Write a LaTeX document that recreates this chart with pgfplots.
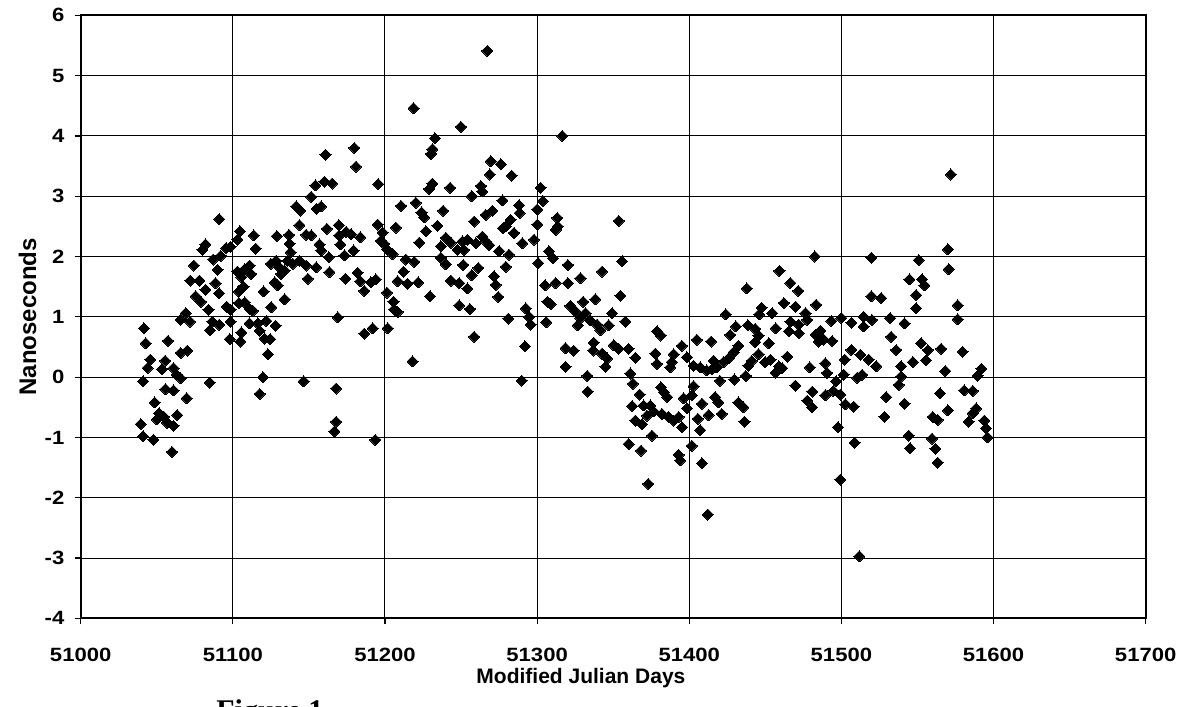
\documentclass[border=0pt]{standalone}
\usepackage{fontspec}
\setmainfont{Liberation Sans}
\newfontfamily\tickfont{Liberation Sans}[FakeStretch=1.15]
\newfontfamily\figfont{Liberation Serif}
\usepackage{pgfplots}
\pgfplotsset{compat=1.18}
\begin{document}
\begin{tikzpicture}
% 1 px of the reference = 0.5pt
\useasboundingbox (0,0) rectangle (595.5pt,-353.5pt);
\begin{axis}[
  at={(40.35pt,-7.65pt)}, anchor=north west,
  scale only axis, width=532.5pt, height=301.5pt,
  xmin=51000, xmax=51700, ymin=-4, ymax=6,
  xtick={51000,51100,...,51700}, ytick={-4,-3,...,6},
  scaled ticks=false,
  /pgf/number format/1000 sep={},
  /pgf/number format/assume math mode=true,
  tick label style={font=\tickfont\bfseries\fontsize{9.6}{10}\selectfont},
  tick align=outside, tick pos=left, major tick length=3pt,
  tick style={black, line width=0.6pt},
  grid=major, major grid style={black, line width=0.5pt},
  axis line style={black, line width=0.9pt},
  xticklabel style={anchor=base, yshift=-18.5pt},
  yticklabel style={anchor=east, inner sep=0pt, xshift=-5pt},
  xlabel={Modified Julian Days}, ylabel={Nanoseconds},
  xlabel style={at={(axis description cs:0.4697,-0.1073)}, anchor=base,
    font=\fontsize{10.5}{12}\selectfont\bfseries},
  ylabel style={at={(axis description cs:-0.0498,0.5)}, anchor=center,
    font=\fontsize{12}{14}\selectfont\bfseries},
]
\addplot[only marks, mark=square*, mark size=1.95pt,
  mark options={rotate=45, fill=black, draw=black, line width=0pt}]
coordinates {
% 51040-51108
(51091,2.62)(51104.6,2.42)(51103,2.28)(51098.5,2.16)(51095.6,2.14)(51082,2.2)(51080,2.11)(51087,1.95)(51092,2.01)(51090,1.78)
(51074.4,1.85)(51103,1.75)(51072,1.6)(51078,1.6)(51088.6,1.56)(51082,1.45)(51075.5,1.34)(51079,1.25)(51091,1.39)(51104,1.42)
(51107,1.5)(51084,1.12)(51096,1.17)(51098.5,1.12)(51104,1.23)(51069,1.06)(51065.7,0.95)(51071.8,0.92)(51086.4,0.92)(51091,0.87)
(51085,0.78)(51098.5,0.92)(51098,0.63)(51105,0.59)(51041.6,0.81)(51042.7,0.56)(51057.4,0.6)(51065.7,0.4)(51070,0.44)(51045.7,0.29)
(51055.5,0.27)(51061,0.15)(51044,0.15)(51053.4,0.13)(51063,0.04)(51065.7,-0.02)(51041,-0.07)(51084.7,-0.09)(51055.7,-0.2)(51061,-0.22)
(51069.6,-0.35)(51048.6,-0.42)(51051.5,-0.6)(51054.7,-0.66)(51063.5,-0.63)(51050,-0.7)(51057,-0.76)(51061,-0.81)(51039.5,-0.78)(51041,-0.98)
(51047.8,-1.04)(51060,-1.24)
% 51105-51176
(51160.9,3.69)(51154.3,3.18)(51160.2,3.24)(51165.3,3.21)(51151.5,2.99)(51141.7,2.83)(51144.3,2.76)(51158,2.83)(51155,2.79)(51143.8,2.52)
(51161.8,2.46)(51169.6,2.52)(51174.4,2.41)(51113.7,2.35)(51129,2.34)(51136.9,2.36)(51148.2,2.36)(51151.5,2.35)(51137.3,2.21)(51115,2.13)
(51157,2.2)(51158,2.1)(51170,2.35)(51170.7,2.2)(51138,2.07)(51163,1.99)(51173.4,2.02)(51128.5,1.93)(51125,1.88)(51130.7,1.82)
(51136,1.93)(51139.5,1.88)(51134,1.77)(51131.8,1.71)(51143.8,1.93)(51148.2,1.85)(51154.8,1.82)(51149.3,1.63)(51163.5,1.74)(51174,1.63)
(51111,1.85)(51112,1.71)(51107.8,1.79)(51105.6,1.66)(51127.5,1.57)(51129.6,1.52)(51120.2,1.42)(51134,1.29)(51107.8,1.24)(51111,1.13)
(51113.2,1.1)(51125.3,1.16)(51169,0.99)(51105.6,0.74)(51111,0.89)(51116.5,0.89)(51122,0.93)(51128.1,0.85)(51117.6,0.77)(51120.9,0.64)
(51124.6,0.63)(51123,0.38)(51119.8,0.0)(51117.6,-0.28)(51146.5,-0.07)(51167.9,-0.19)(51167.9,-0.74)(51166.8,-0.9)
% 51176-51245
(51218.8,4.46)(51232.8,3.96)(51231.2,3.78)(51230.1,3.7)(51179.9,3.8)(51181,3.49)(51195.6,3.2)(51231.2,3.21)(51229,3.12)(51242.8,3.14)
(51210.5,2.84)(51220.3,2.89)(51224,2.73)(51225.8,2.65)(51238.2,2.76)(51234.5,2.51)(51226.9,2.42)(51222.5,2.23)(51207.2,2.48)(51195.2,2.53)
(51198.4,2.4)(51197.3,2.26)(51199.5,2.21)(51201.3,2.12)(51205,2.04)(51177.7,2.37)(51183.8,2.32)(51179.4,2.1)(51240,2.31)(51236.7,2.17)
(51243.3,2.23)(51236.7,1.98)(51240,1.87)(51213.7,1.95)(51219.2,1.91)(51212.2,1.75)(51208.3,1.59)(51214.8,1.55)(51221.8,1.57)(51229.7,1.34)
(51243.3,1.6)(51182,1.73)(51183.8,1.59)(51186.4,1.43)(51190.8,1.57)(51194,1.62)(51201.3,1.4)(51205.6,1.25)(51208.3,1.08)(51206,1.12)
(51186.4,0.72)(51191.9,0.81)(51201.7,0.81)(51218.1,0.26)(51193.6,-1.04)
% 51245-51314
(51267.3,5.41)(51249.9,4.15)(51269.5,3.58)(51276.1,3.53)(51268.9,3.36)(51283.3,3.34)(51257,3.0)(51263,3.17)(51264,3.08)(51302.3,3.14)
(51303.8,2.92)(51277.2,2.93)(51270.6,2.76)(51266.2,2.69)(51258.6,2.58)(51288.1,2.85)(51288.5,2.72)(51282.6,2.61)(51279.4,2.5)(51277.6,2.47)
(51284.8,2.39)(51300.1,2.78)(51300.1,2.53)(51313.2,2.64)(51312.1,2.44)(51251,2.25)(51254.2,2.28)(51247.7,2.11)(51252,2.11)(51259.7,2.22)
(51264,2.33)(51266.2,2.25)(51268.4,2.19)(51275,2.09)(51281.5,2.03)(51290.3,2.22)(51298,2.28)(51307.8,2.09)(51310.4,1.97)(51251.4,1.86)
(51257,1.69)(51261.4,1.81)(51248.8,1.56)(51254.2,1.47)(51271.7,1.67)(51272.8,1.53)(51274.5,1.33)(51279.4,1.83)(51248.8,1.19)(51255.8,1.13)
(51300.8,1.89)(51305.2,1.52)(51312.1,1.56)(51306.7,1.25)(51308.9,1.21)(51281.1,0.97)(51292.5,1.14)(51294.7,1.0)(51295.8,0.87)(51306,0.91)
(51258.6,0.67)(51292,0.51)(51289.9,-0.06)
% 51314-51383
(51316.5,4.0)(51313.6,2.5)(51353.6,2.59)(51355.8,1.92)(51320.2,1.86)(51342.7,1.75)(51328.5,1.64)(51320.2,1.56)(51354.7,1.35)(51338.3,1.29)
(51330.2,1.25)(51321.9,1.18)(51325.2,1.09)(51328.5,0.98)(51331.8,1.06)(51335,0.94)(51326.7,0.86)(51339.4,0.87)(51341.6,0.78)(51347,0.86)
(51349.3,1.06)(51358,0.92)(51378.8,0.76)(51381.4,0.69)(51318.7,0.48)(51324.1,0.44)(51337.2,0.57)(51336.8,0.44)(51342.7,0.39)(51346,0.31)
(51344.9,0.17)(51350.3,0.53)(51353.6,0.47)(51360.2,0.47)(51364.6,0.32)(51377.7,0.39)(51378.8,0.22)(51318.7,0.17)(51332.9,0.02)(51361.3,0.06)
(51363,-0.11)(51367.4,-0.29)(51381.4,-0.17)(51333.3,-0.24)(51362.4,-0.48)(51370,-0.47)(51374.4,-0.47)(51376.6,-0.57)(51372.2,-0.64)(51364.6,-0.72)
(51369,-0.78)(51382,-0.61)(51375.5,-0.97)(51360.2,-1.11)(51368.3,-1.22)(51373,-1.77)
% 51383-51452
(51437.8,1.47)(51424,1.04)(51447.6,1.15)(51446,1.04)(51405,0.62)(51414.4,0.59)(51426.9,0.7)(51430.6,0.84)(51438.5,0.86)(51443.3,0.8)
(51445.5,0.69)(51443.3,0.58)(51395.2,0.52)(51389.7,0.38)(51398.5,0.33)(51388.6,0.25)(51387.5,0.16)(51432.3,0.52)(51429.1,0.41)(51425.8,0.31)
(51422.5,0.25)(51445.5,0.38)(51449.8,0.25)(51441.1,0.27)(51438.9,0.19)(51402.8,0.19)(51407.2,0.16)(51411.6,0.11)(51414.9,0.13)(51418.1,0.16)
(51416,0.27)(51420.1,-0.06)(51429.7,-0.04)(51437.2,0.02)(51383.2,-0.25)(51385.4,-0.33)(51396.3,-0.35)(51401.7,-0.3)(51402.8,-0.15)(51408.3,-0.44)
(51417,-0.33)(51419.2,-0.42)(51432.3,-0.42)(51435.6,-0.5)(51386.4,-0.66)(51389.7,-0.72)(51393,-0.66)(51395.2,-0.83)(51398.5,-0.52)(51405.7,-0.69)
(51412.7,-0.63)(51421.4,-0.61)(51407.2,-0.88)(51436.3,-0.74)(51401.7,-1.14)(51393,-1.29)(51394.1,-1.38)(51408.3,-1.43)(51412.2,-2.28)
% 51452-51522
(51482.5,2.0)(51519.7,1.98)(51459.3,1.76)(51466.5,1.56)(51471.6,1.43)(51519.7,1.34)(51462.2,1.23)(51469.8,1.17)(51483.4,1.2)(51476.4,1.06)
(51454.5,1.06)(51456.7,0.81)(51466.5,0.92)(51472,0.87)(51477.5,0.95)(51493.4,0.93)(51500,0.98)(51506.6,0.9)(51514.6,1.0)(51514.6,0.84)
(51520.1,0.95)(51483,0.7)(51486.2,0.77)(51488.4,0.62)(51493.9,0.6)(51485.1,0.59)(51472,0.73)(51465.5,0.76)(51452.3,0.56)(51464.4,0.34)
(51453.4,0.29)(51458.9,0.18)(51456.7,0.07)(51461.1,0.15)(51479.2,0.16)(51489.5,0.23)(51490.6,0.07)(51502.2,0.29)(51501.5,0.04)(51506.6,0.45)
(51512.5,0.37)(51518,0.29)(51510.3,-0.01)(51513.6,0.04)(51496.5,-0.07)(51469.8,-0.14)(51480.8,-0.24)(51489.5,-0.3)(51494.7,-0.23)(51499.3,-0.29)
(51477.5,-0.39)(51480.8,-0.5)(51502.6,-0.45)(51508.1,-0.49)(51497.8,-0.83)(51508.7,-1.09)(51499.3,-1.7)(51511.8,-2.97)
% 51522-51597
(51572,3.36)(51569.9,2.12)(51570.5,1.79)(51550.8,1.94)(51544.7,1.62)(51553,1.62)(51554.6,1.52)(51549.1,1.36)(51549.1,1.14)(51526.2,1.31)
(51576.4,1.19)(51576.4,0.96)(51532,0.98)(51541.5,0.89)(51532.7,0.67)(51536,0.45)(51552.4,0.56)(51556.8,0.45)(51555.7,0.28)(51565.5,0.47)
(51579.7,0.42)(51522.9,0.18)(51539.3,0.18)(51546.9,0.25)(51539.3,0.01)(51537.7,-0.13)(51568.3,0.1)(51589.5,0.02)(51529.4,-0.33)(51564.8,-0.27)
(51580.8,-0.22)(51586.3,-0.23)(51541.5,-0.44)(51528.3,-0.66)(51560,-0.66)(51569.9,-0.55)(51563.3,-0.71)(51583.6,-0.74)(51586.3,-0.6)(51588.5,-0.52)
(51544.3,-0.97)(51545.2,-1.18)(51559.6,-1.02)(51561.8,-1.19)(51563.3,-1.42)
(51592,0.14)(51594,-0.72)(51595,-0.85)(51596,-1.0)
};
\end{axis}
\node[anchor=north west, inner sep=0pt, font=\figfont\bfseries\fontsize{15}{18}\selectfont]
  at (108pt,-349.5pt) {Figure 1};
\end{tikzpicture}
\end{document}
